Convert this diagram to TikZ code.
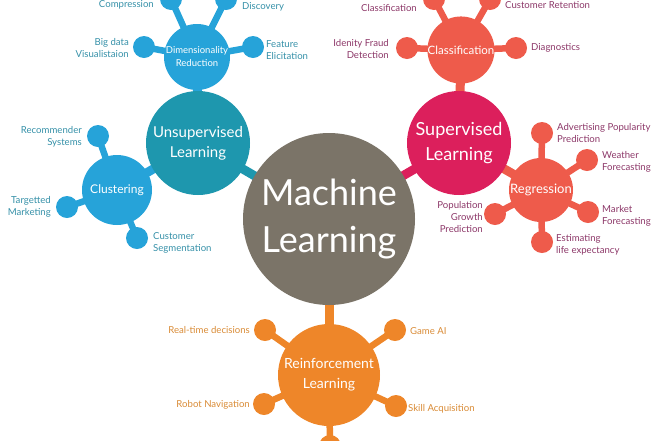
\documentclass[tikz,border=0pt]{standalone}
\usepackage{fontspec}
\setmainfont{Lato}
\usetikzlibrary{backgrounds}

\definecolor{mlgray}{HTML}{7B7468}
\definecolor{ulteal}{HTML}{1E97AE}
\definecolor{skyblue}{HTML}{26A3D9}
\definecolor{tealtext}{HTML}{3590A8}
\definecolor{slred}{HTML}{DC1F5C}
\definecolor{coral}{HTML}{EE5B4B}
\definecolor{purpletext}{HTML}{8C3768}
\definecolor{rlorange}{HTML}{EE8629}
\definecolor{orangetext}{HTML}{D98B36}

\tikzset{
  hub/.style={circle, inner sep=0pt, text=white, align=center},
  sat/.style={circle, inner sep=0pt, minimum size=22pt},
  spoke/.style={line width=6.5pt},
  stem/.style={line width=9pt},
  lbl/.style={font=\fontsize{9.6}{12}\selectfont, inner sep=0pt}
}

\begin{document}
\begin{tikzpicture}[x=1pt, y=-1pt]
  \useasboundingbox (0,0) rectangle (660,440);
  \clip (0,0) rectangle (660,440);

  % Machine Learning in the middle
  \node[hub, fill=mlgray, minimum size=172pt, font=\fontsize{36}{47}\selectfont] (ml) at (329,219) {Machine\\Learning};

  % Unsupervised Learning and its two clusters
  \node[hub, fill=ulteal, minimum size=104pt, font=\fontsize{15}{20}\selectfont] (ul) at (198,143) {Unsupervised\\Learning};
  \node[hub, fill=skyblue, minimum size=66pt, font=\fontsize{9.5}{13}\selectfont] (dr) at (197,57) {Dimensionality\\Reduction};
  \node[sat, fill=skyblue] (dr-c) at (171,-1) {};
  \node[sat, fill=skyblue] (dr-d) at (226,-1) {};
  \node[sat, fill=skyblue] (dr-v) at (144,47) {};
  \node[sat, fill=skyblue] (dr-f) at (253,47) {};
  \node[hub, fill=skyblue, minimum size=70pt, font=\fontsize{12}{14}\selectfont] (cl) at (117,190) {Clustering};
  \node[sat, fill=skyblue] (cl-r) at (98,136) {};
  \node[sat, fill=skyblue] (cl-t) at (67,207) {};
  \node[sat, fill=skyblue] (cl-s) at (137,238) {};

  \begin{scope}[lbl, text=tealtext]
    \node[anchor=east] at (154,5) {Compression};
    \node[anchor=west] at (242,7) {Discovery};
    \node[anchor=east, align=right] at (129,48) {Big data\\Visualistaion};
    \node[anchor=west, align=left] at (266,50) {Feature\\Elicitation};
    \node[anchor=east, align=right] at (82,137) {Recommender\\Systems};
    \node[anchor=east, align=right] at (51,207) {Targetted\\Marketing};
    \node[anchor=west, align=left] at (153,243) {Customer\\Segmentation};
  \end{scope}

  % Supervised Learning and its two clusters
  \node[hub, fill=slred, minimum size=104pt, font=\fontsize{18}{25}\selectfont] (sl) at (459,143) {Supervised\\Learning};
  \node[hub, fill=coral, minimum size=66pt, font=\fontsize{11.5}{13}\selectfont] (cf) at (461,50) {Classification};
  \node[sat, fill=coral] (cf-i) at (434,-1) {};
  \node[sat, fill=coral] (cf-r) at (490,-1) {};
  \node[sat, fill=coral] (cf-f) at (407,48) {};
  \node[sat, fill=coral] (cf-d) at (516,48) {};
  \node[hub, fill=coral, minimum size=64pt, font=\fontsize{13}{15}\selectfont] (rg) at (541,190) {Regression};
  \node[sat, fill=coral] (rg-a) at (542,133) {};
  \node[sat, fill=coral] (rg-w) at (587,160) {};
  \node[sat, fill=coral] (rg-m) at (588,212) {};
  \node[sat, fill=coral] (rg-e) at (542,242) {};
  \node[sat, fill=coral] (rg-p) at (495,214) {};

  \begin{scope}[lbl, text=purpletext]
    \node[anchor=east] at (417,8) {Classification};
    \node[anchor=west] at (505,5) {Customer Retention};
    \node[anchor=east, align=right] at (389,49) {Idenity Fraud\\Detection};
    \node[anchor=west] at (531,48) {Diagnostics};
    \node[anchor=west, align=left] at (557,133) {Advertising Popularity\\Prediction};
    \node[anchor=west, align=left] at (602,162) {Weather\\Forecasting};
    \node[anchor=west, align=left] at (602,216) {Market\\Forecasting};
    \node[anchor=west, align=left] at (556,245) {Estimating\\life expectancy};
    \node[anchor=east, align=right] at (483,217) {Population\\Growth\\Prediction};
  \end{scope}

  % Reinforcement Learning
  \node[hub, fill=rlorange, minimum size=102pt, font=\fontsize{14}{20}\selectfont] (rl) at (329,375) {Reinforcement\\Learning};
  \node[sat, fill=rlorange] (rl-d) at (265,330) {};
  \node[sat, fill=rlorange] (rl-g) at (395,330) {};
  \node[sat, fill=rlorange] (rl-n) at (264,404) {};
  \node[sat, fill=rlorange] (rl-s) at (396,406) {};
  \node[sat, fill=rlorange] (rl-b) at (330,446) {};

  \begin{scope}[lbl, text=orangetext]
    \node[anchor=east] at (250,330) {Real-time decisions};
    \node[anchor=west] at (410,331) {Game AI};
    \node[anchor=east] at (250,405) {Robot Navigation};
    \node[anchor=west] at (408,409) {Skill Acquisition};
  \end{scope}

  % connectors behind the circles
  \begin{scope}[on background layer]
    \draw[stem, ulteal] (ml.center) -- (ul.center);
    \draw[stem, slred] (ml.center) -- (sl.center);
    \draw[stem, rlorange] (ml.center) -- (rl.center);
    \draw[stem, skyblue] (ul.center) -- (dr.center);
    \draw[stem, skyblue] (ul.center) -- (cl.center);
    \draw[stem, coral] (sl.center) -- (cf.center);
    \draw[stem, coral] (sl.center) -- (rg.center);
    \foreach \s in {dr-c,dr-d,dr-v,dr-f} \draw[spoke, skyblue] (dr.center) -- (\s.center);
    \foreach \s in {cl-r,cl-t,cl-s} \draw[spoke, skyblue] (cl.center) -- (\s.center);
    \foreach \s in {cf-i,cf-r,cf-f,cf-d} \draw[spoke, coral] (cf.center) -- (\s.center);
    \foreach \s in {rg-a,rg-w,rg-m,rg-e,rg-p} \draw[spoke, coral] (rg.center) -- (\s.center);
    \foreach \s in {rl-d,rl-g,rl-n,rl-s,rl-b} \draw[spoke, rlorange] (rl.center) -- (\s.center);
  \end{scope}
\end{tikzpicture}
\end{document}
